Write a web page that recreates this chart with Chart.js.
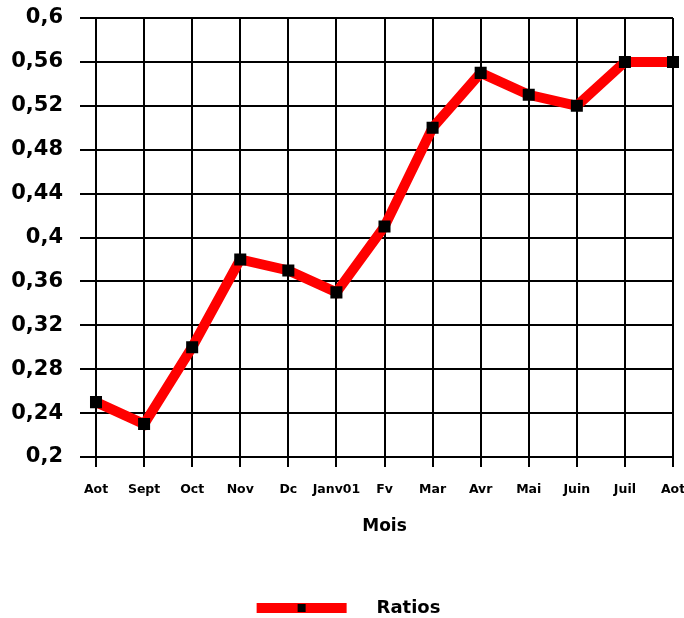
<!DOCTYPE html>
<html>
<head>
<meta charset="utf-8">
<script src="https://cdn.jsdelivr.net/npm/chart.js@4.4.0/dist/chart.umd.min.js"></script>
<style>
  html, body { margin: 0; padding: 0; background: #fff; }
  #wrap { width: 684px; height: 618px; }
</style>
</head>
<body>
<div id="wrap"><canvas id="myChart" width="684" height="618"></canvas></div>
<script>
const months = ['Aot', 'Sept', 'Oct', 'Nov', 'Dc', 'Janv01', 'Fv', 'Mar', 'Avr', 'Mai', 'Juin', 'Juil', 'Aot'];
const ratios = [0.25, 0.23, 0.30, 0.38, 0.37, 0.35, 0.41, 0.50, 0.55, 0.53, 0.52, 0.56, 0.56];
const yMin = 0.2;
const yMax = 0.6;
const yStep = 0.04;

// legend sample: red line with a black square in the middle
const legendImg = document.createElement('canvas');
legendImg.width = 135;
legendImg.height = 14;
const lctx = legendImg.getContext('2d');
lctx.fillStyle = '#ff0000';
lctx.fillRect(24, 2, 90, 10);
lctx.fillStyle = '#000';
lctx.fillRect(65, 3, 8, 8);

const font = '"DejaVu Sans", Verdana, sans-serif';

const data = {
    labels: months,
    datasets: [
        {
            label: 'Ratios',
            data: ratios,
            borderColor: '#ff0000',
            backgroundColor: '#000000',
            borderWidth: 10,
            pointStyle: 'rect',
            pointRadius: 8.5,
            pointBorderWidth: 0,
            pointBackgroundColor: '#000000',
            tension: 0
        }
    ]
};

const config = {
    type: 'line',
    data: data,
    options: {
        responsive: false,
        animation: false,
        layout: { padding: { top: 18, right: 11, left: 0, bottom: -9 } },
        plugins: {
            tooltip: { enabled: false },
            legend: {
                position: 'bottom',
                labels: {
                    usePointStyle: true,
                    pointStyle: legendImg,
                    pointStyleWidth: 135,
                    color: '#000',
                    padding: 0,
                    font: { family: font, size: 18, weight: 'bold' }
                }
            }
        },
        scales: {
            x: {
                offset: false,
                grid: { color: '#000', lineWidth: 2, tickLength: 10, offset: false },
                border: { color: '#000', width: 2 },
                ticks: {
                    color: '#000',
                    maxRotation: 0,
                    autoSkip: false,
                    padding: 15,
                    font: { family: font, size: 12.5, weight: 'bold' }
                },
                title: {
                    display: true,
                    text: 'Mois',
                    color: '#000',
                    padding: { top: 17, bottom: 62 },
                    font: { family: font, size: 17, weight: 'bold' }
                },
                afterFit: function (s) {
                    s.paddingLeft = 0;
                    s.paddingRight = 0;
                    s.height = 142;
                }
            },
            y: {
                min: yMin,
                max: yMax,
                grid: { color: '#000', lineWidth: 2, tickLength: 16 },
                border: { color: '#000', width: 2 },
                ticks: {
                    stepSize: yStep,
                    color: '#000',
                    padding: 17,
                    font: { family: font, size: 21, weight: 'bold' },
                    callback: function (v) {
                        return v.toFixed(2).replace(/0$/, '').replace('.', ',');
                    }
                },
                afterFit: function (s) {
                    s.width = 96;
                    s.paddingTop = 0;
                    s.paddingBottom = 0;
                }
            }
        }
    }
};

const ctx = document.getElementById('myChart').getContext('2d');
const myChart = new Chart(ctx, config);
</script>
</body>
</html>
